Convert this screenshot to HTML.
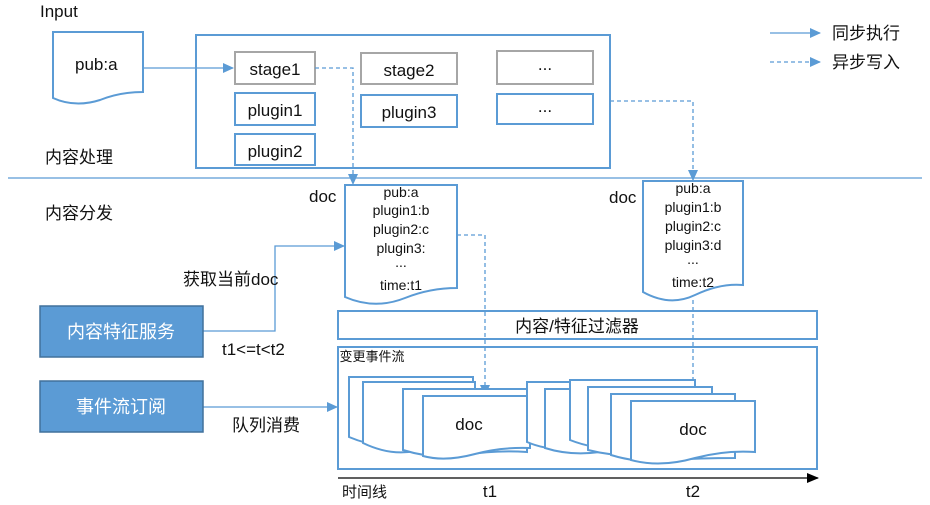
<!DOCTYPE html>
<html><head><meta charset="utf-8"><style>
body{margin:0;background:#fff}
svg text{font-family:"Liberation Sans","Noto Sans CJK SC",sans-serif;fill:#111}
</style></head><body>
<svg width="930" height="500" viewBox="0 0 930 500" xmlns="http://www.w3.org/2000/svg">
<defs>
<marker id="a" markerWidth="11" markerHeight="10" refX="10" refY="5" orient="auto" markerUnits="userSpaceOnUse"><path d="M0,0 L11,5 L0,10z" fill="#5b9bd5"/></marker>
<marker id="k" markerWidth="12" markerHeight="10" refX="11" refY="5" orient="auto" markerUnits="userSpaceOnUse"><path d="M0,0 L12,5 L0,10z" fill="#000"/></marker>
</defs>
<g fill="none" stroke="#5b9bd5" stroke-width="2">
<path d="M53,32 H143 V92 Q120,92 100,100 Q75,108 53,98 Z" fill="#fff"/>
<rect x="196" y="35" width="414" height="133"/>
<rect x="235" y="52" width="80" height="32" stroke="#a6a6a6"/>
<rect x="361" y="53" width="96" height="31" stroke="#a6a6a6"/>
<rect x="497" y="51" width="96" height="33" stroke="#a6a6a6"/>
<rect x="235" y="93" width="80" height="32"/>
<rect x="361" y="95" width="96" height="32"/>
<rect x="497" y="94" width="96" height="30"/>
<rect x="235" y="134" width="80" height="31"/>
<path d="M345,185 H457 V288 Q430,288 405,298 Q375,310 345,297 Z" fill="#fff"/>
<path d="M643,181 H743 V285 Q720,283 695,295 Q670,307 643,292 Z" fill="#fff"/>
<rect x="338" y="311" width="479" height="28"/>
<rect x="338" y="347" width="479" height="122"/>
</g>
<g stroke="#5b9bd5" stroke-width="1.3" fill="none">
<line x1="8" y1="178" x2="922" y2="178"/>
<line x1="143" y1="68" x2="233" y2="68" marker-end="url(#a)"/>
<line x1="770" y1="33" x2="820" y2="33" marker-end="url(#a)"/>
<line x1="770" y1="62" x2="820" y2="62" stroke-dasharray="4,3" marker-end="url(#a)"/>
<polyline points="315,68 353,68 353,184" stroke-dasharray="4,3" marker-end="url(#a)"/>
<polyline points="610,101 693,101 693,180" stroke-dasharray="4,3" marker-end="url(#a)"/>
<polyline points="457,235 485,235 485,395" stroke-dasharray="4,3" marker-end="url(#a)"/>
<polyline points="693,300 693,400" stroke-dasharray="4,3" marker-end="url(#a)"/>
<polyline points="203,331 275,331 275,246 344,246" marker-end="url(#a)"/>
<line x1="203" y1="407" x2="337" y2="407" marker-end="url(#a)"/>
</g>
<line x1="338" y1="478" x2="818" y2="478" stroke="#000" stroke-width="1.3" marker-end="url(#k)"/>
<g fill="#fff" stroke="#5b9bd5" stroke-width="2">
<path d="M349,377 H473 V440 Q440,440 410,445 Q380,450 349,437 Z"/>
<path d="M363,382 H475 V446 Q440,446 415,451 Q390,456 363,443 Z"/>
<path d="M403,389 H527 V452 Q495,450 465,455 Q435,460 403,450 Z"/>
<path d="M423,396 H530 V448 Q500,447 475,454 Q445,462 423,456 Z"/>
<path d="M527,382 H640 V445 Q610,445 580,448 Q550,452 527,442 Z"/>
<path d="M545,389 H655 V450 Q625,450 600,452 Q570,456 545,448 Z"/>
<path d="M570,380 H695 V445 Q665,445 640,448 Q600,452 570,440 Z"/>
<path d="M588,387 H712 V452 Q680,452 650,454 Q620,458 588,450 Z"/>
<path d="M611,394 H735 V458 Q700,458 670,460 Q640,464 611,455 Z"/>
<path d="M631,401 H755 V452 Q725,450 695,458 Q660,468 631,460 Z"/>
</g>
<rect x="40" y="306" width="163" height="51" fill="#5b9bd5" stroke="#41719c" stroke-width="1.5"/>
<rect x="40" y="381" width="163" height="51" fill="#5b9bd5" stroke="#41719c" stroke-width="1.5"/>
<g font-size="17">
<text x="40" y="17">Input</text>
<text x="75" y="70">pub:a</text>
<text x="275" y="75" text-anchor="middle">stage1</text>
<text x="409" y="76" text-anchor="middle">stage2</text>
<text x="545" y="70" text-anchor="middle">...</text>
<text x="275" y="116" text-anchor="middle">plugin1</text>
<text x="409" y="118" text-anchor="middle">plugin3</text>
<text x="545" y="112" text-anchor="middle">...</text>
<text x="275" y="157" text-anchor="middle">plugin2</text>
<text x="45" y="163">内容处理</text>
<text x="45" y="219">内容分发</text>
<text x="832" y="39">同步执行</text>
<text x="832" y="68">异步写入</text>
<text x="309" y="202">doc</text>
<text x="609" y="203">doc</text>
<text x="183" y="285">获取当前doc</text>
<text x="222" y="355">t1&lt;=t&lt;t2</text>
<text x="232" y="431">队列消费</text>
<text x="121" y="338" text-anchor="middle" font-size="18" style="fill:#fff">内容特征服务</text>
<text x="121" y="413" text-anchor="middle" font-size="18" style="fill:#fff">事件流订阅</text>
<text x="577" y="332" text-anchor="middle">内容/特征过滤器</text>
<text x="469" y="430" text-anchor="middle">doc</text>
<text x="693" y="435" text-anchor="middle">doc</text>
<text x="490" y="497" text-anchor="middle">t1</text>
<text x="693" y="497" text-anchor="middle">t2</text>
<text x="342" y="497" font-size="15">时间线</text>
</g>
<g font-size="14" text-anchor="middle">
<text x="401" y="197">pub:a</text>
<text x="401" y="215">plugin1:b</text>
<text x="401" y="234">plugin2:c</text>
<text x="401" y="253">plugin3:</text>
<text x="401" y="267">...</text>
<text x="401" y="290">time:t1</text>
<text x="693" y="193">pub:a</text>
<text x="693" y="212">plugin1:b</text>
<text x="693" y="231">plugin2:c</text>
<text x="693" y="250">plugin3:d</text>
<text x="693" y="264">...</text>
<text x="693" y="287">time:t2</text>
<text x="372" y="361" font-size="13">变更事件流</text>
</g>
</svg>
</body></html>
